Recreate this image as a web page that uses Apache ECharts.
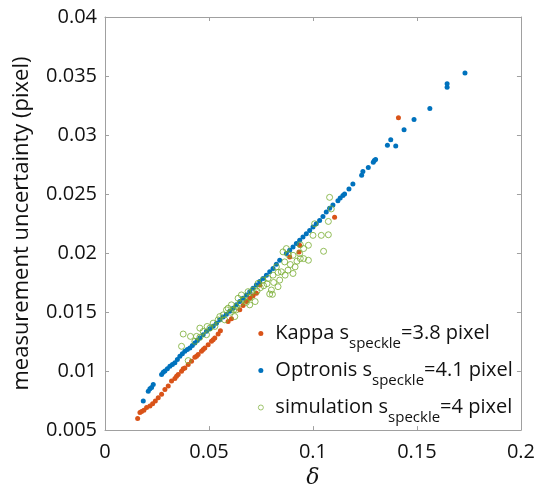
<!DOCTYPE html>
<html>
<head>
<meta charset="utf-8">
<script src="https://cdn.jsdelivr.net/npm/echarts@6/dist/echarts.min.js"></script>
<style>
html,body{margin:0;padding:0;background:#fff;}
#c{width:538px;height:494px;}
</style>
</head>
<body>
<div id="c"></div>
<script>
// ---- data (delta, uncertainty) ----
var kappaDelta = [0.0157,0.0168,0.0176,0.0187,0.0200,0.0216,0.0229,0.0242,0.0256,0.0272,0.0288,0.0304,0.0320,0.0336,0.0344,0.0352,0.0368,0.0376,0.0384,0.0400,0.0416,0.0432,0.0440,0.0448,0.0464,0.0472,0.0480,0.0496,0.0512,0.0520,0.0528,0.0544,0.0555,0.0592,0.0608,0.0648,0.0664,0.0680,0.0696,0.0712,0.0728,0.0744,0.0888,0.0933,0.0936,0.1104,0.1411];
var kappaUnc   = [0.00598,0.00649,0.00657,0.00668,0.00691,0.00705,0.00724,0.00747,0.00775,0.00803,0.00845,0.00873,0.00915,0.00938,0.00957,0.00971,0.00999,0.01019,0.01027,0.01056,0.01084,0.01117,0.01125,0.01140,0.01168,0.01182,0.01196,0.01224,0.01252,0.01266,0.01280,0.01314,0.01342,0.01420,0.01443,0.01519,0.01555,0.01589,0.01617,0.01639,0.01659,0.01729,0.01967,0.02010,0.02066,0.02304,0.03146];

var optDelta = [0.0184,0.0208,0.0216,0.0224,0.0232,0.0272,0.0280,0.0288,0.0300,0.0312,0.0324,0.0336,0.0348,0.0360,0.0372,0.0384,0.0396,0.0408,0.0420,0.0432,0.0444,0.0456,0.0472,0.0488,0.0504,0.0520,0.0536,0.0552,0.0568,0.0584,0.0600,0.0616,0.0632,0.0648,0.0664,0.0680,0.0696,0.0712,0.0728,0.0744,0.0760,0.0776,0.0792,0.0808,0.0824,0.0840,0.0872,0.0888,0.0904,0.0920,0.0936,0.0952,0.0968,0.0984,0.1000,0.1016,0.1032,0.1048,0.1064,0.1080,0.1096,0.1120,0.1131,0.1144,0.1152,0.1173,0.1192,0.1234,0.1240,0.1266,0.1290,0.1295,0.1301,0.1358,0.1374,0.1398,0.1438,0.1486,0.1562,0.1645,0.1645,0.1731];
var optUnc   = [0.00747,0.00830,0.00850,0.00860,0.00887,0.00971,0.00990,0.01000,0.01020,0.01042,0.01056,0.01070,0.01098,0.01126,0.01147,0.01168,0.01182,0.01196,0.01217,0.01238,0.01259,0.01280,0.01308,0.01337,0.01358,0.01379,0.01406,0.01434,0.01458,0.01482,0.01508,0.01533,0.01561,0.01589,0.01617,0.01645,0.01673,0.01701,0.01730,0.01758,0.01785,0.01813,0.01841,0.01870,0.01905,0.01940,0.01996,0.02024,0.02052,0.02080,0.02108,0.02136,0.02164,0.02192,0.02220,0.02248,0.02276,0.02310,0.02347,0.02380,0.02408,0.02444,0.02467,0.02487,0.02500,0.02543,0.02585,0.02660,0.02690,0.02725,0.02770,0.02785,0.02792,0.02913,0.02960,0.02907,0.03045,0.03132,0.03224,0.03404,0.03435,0.03525];

var simDelta = [0.0376,0.0368,0.0400,0.0411,0.0440,0.0456,0.0491,0.0456,0.0520,0.0544,0.0568,0.0592,0.0603,0.0619,0.0632,0.0640,0.0651,0.0664,0.0680,0.0696,0.0704,0.0722,0.0731,0.0747,0.0763,0.0779,0.0792,0.0805,0.0811,0.0840,0.0848,0.0832,0.0866,0.0880,0.0891,0.0904,0.0914,0.0923,0.0939,0.0955,0.0978,0.0856,0.0882,0.0939,0.0978,0.0955,0.1000,0.1040,0.1074,0.1051,0.1074,0.1080,0.1088,0.1008,0.0552,0.0584,0.0608,0.0632,0.0656,0.0688,0.0712,0.0736,0.0760,0.0784,0.0808,0.0824,0.0864,0.0904,0.0936,0.0488,0.0504,0.0528,0.0576,0.0432,0.0472,0.0800,0.0832,0.0696,0.0624,0.0872];
var simUnc   = [0.01314,0.01210,0.01089,0.01294,0.01294,0.01364,0.01378,0.01286,0.01406,0.01434,0.01476,0.01533,0.01499,0.01519,0.01547,0.01617,0.01575,0.01603,0.01583,0.01622,0.01667,0.01589,0.01678,0.01706,0.01723,0.01740,0.01653,0.01650,0.01751,0.01771,0.01841,0.01836,0.01813,0.01855,0.01903,0.01827,0.01883,0.01931,0.01953,0.01953,0.01939,0.02010,0.01987,0.02071,0.02066,0.02038,0.02150,0.02150,0.02155,0.02015,0.02268,0.02472,0.02374,0.02248,0.01462,0.01519,0.01561,0.01519,0.01645,0.01673,0.01687,0.01743,0.01771,0.01785,0.01813,0.01883,0.01925,0.01981,0.01996,0.01308,0.01364,0.01378,0.01434,0.01252,0.01336,0.01687,0.01715,0.01561,0.01462,0.02038];

var seriesNames = ['Kappa', 'Optronis', 'simulation'];
var legendPre  = ['Kappa s', 'Optronis s', 'simulation s'];
var legendSub  = 'speckle';
var legendPost = ['=3.8 pixel', '=4.1 pixel', '=4 pixel'];

var xTicks = [0, 0.05, 0.1, 0.15, 0.2];
var yTicks = [0.005, 0.01, 0.015, 0.02, 0.025, 0.03, 0.035, 0.04];

function zip(a, b) { return a.map(function (v, i) { return [v, b[i]]; }); }

var FONT = 'Open Sans';
var AX = '#a0a0a0';
var GREEN = '#77AC30';

var chart = echarts.init(document.getElementById('c'), null, {renderer: 'canvas'});
var xBase = {
  type: 'value', min: xTicks[0], max: xTicks[xTicks.length - 1], interval: 0.05,
  axisLine: {show: true, onZero: false, lineStyle: {color: AX, width: 1}},
  axisTick: {show: true, inside: true, length: 4, lineStyle: {color: AX}},
  splitLine: {show: false}
};
var yBase = {
  type: 'value', min: yTicks[0], max: yTicks[yTicks.length - 1], interval: 0.005,
  axisLine: {show: true, onZero: false, lineStyle: {color: AX, width: 1}},
  axisTick: {show: true, inside: true, length: 4, lineStyle: {color: AX}},
  splitLine: {show: false}
};
chart.setOption({
  animation: false,
  backgroundColor: '#fff',
  grid: {left: 105, right: 17, top: 17, bottom: 63},
  xAxis: [
    Object.assign({}, xBase, {
      position: 'bottom',
      name: 'δ', nameLocation: 'middle', nameGap: 31,
      nameTextStyle: {fontFamily: 'DejaVu Serif', fontStyle: 'italic', fontSize: 22, color: '#111'},
      axisLabel: {show: true, margin: 12, fontFamily: FONT, fontSize: 20, color: '#111',
        formatter: function (v) { return String(+v.toFixed(3)); }}
    }),
    Object.assign({}, xBase, {position: 'top', axisLabel: {show: false}})
  ],
  yAxis: [
    Object.assign({}, yBase, {
      position: 'left',
      name: 'measurement uncertainty (pixel)', nameLocation: 'middle', nameGap: 72,
      nameTextStyle: {fontFamily: FONT, fontSize: 22, color: '#111'},
      axisLabel: {show: true, margin: 8, fontFamily: FONT, fontSize: 20, color: '#111',
        formatter: function (v) { return String(+v.toFixed(3)); }}
    }),
    Object.assign({}, yBase, {position: 'right', axisLabel: {show: false}})
  ],
  legend: {
    orient: 'vertical', left: 258, top: 316, padding: 0,
    itemWidth: 5, itemHeight: 5, itemGap: 2,
    data: [
      {name: seriesNames[0]},
      {name: seriesNames[1]},
      {name: seriesNames[2], itemStyle: {color: 'rgba(255,255,255,0)', borderColor: GREEN, borderWidth: 0.7}}
    ],
    formatter: function (name) {
      var i = seriesNames.indexOf(name);
      return '{a|' + legendPre[i] + '}{b|' + legendSub + '}{a|' + legendPost[i] + '}';
    },
    textStyle: {
      padding: [0, 0, 0, 7],
      rich: {
        a: {fontFamily: FONT, fontSize: 20, lineHeight: 20, color: '#111'},
        b: {fontFamily: FONT, fontSize: 15, lineHeight: 12, padding: [20, 0, 0, 0], color: '#111'}
      }
    }
  },
  series: [
    {name: seriesNames[0], type: 'scatter', data: zip(kappaDelta, kappaUnc), symbol: 'circle', symbolSize: 5,
     itemStyle: {color: '#D95319', opacity: 1}},
    {name: seriesNames[1], type: 'scatter', data: zip(optDelta, optUnc), symbol: 'circle', symbolSize: 5,
     itemStyle: {color: '#0072BD', opacity: 1}},
    {name: seriesNames[2], type: 'scatter', data: zip(simDelta, simUnc), symbol: 'circle', symbolSize: 6,
     itemStyle: {color: 'rgba(255,255,255,0)', borderColor: GREEN, borderWidth: 0.8, opacity: 1}}
  ]
});
</script>
</body>
</html>
